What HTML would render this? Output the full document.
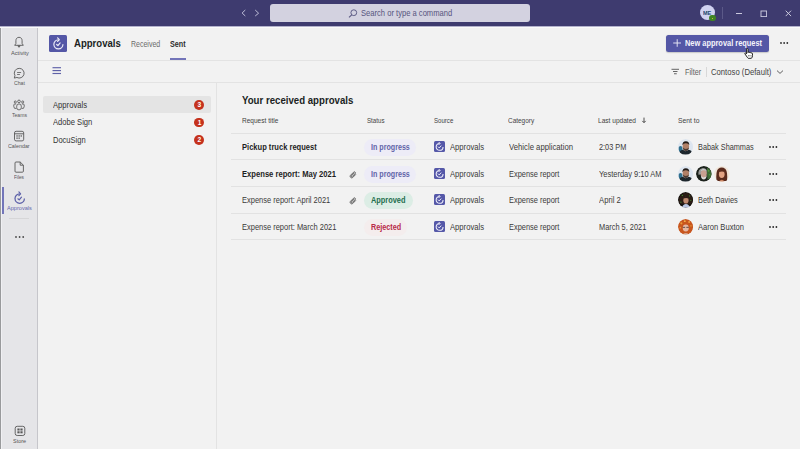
<!DOCTYPE html>
<html><head><meta charset="utf-8">
<style>
*{margin:0;padding:0;box-sizing:border-box}
html,body{width:800px;height:449px;overflow:hidden;background:#f2f2f2;font-family:"Liberation Sans",sans-serif;color:#252423}
.a{position:absolute}
.t{position:absolute;white-space:nowrap;line-height:1}
.hl{position:absolute;height:1px;background:#e1e1e1}
.badge{position:absolute;width:9.8px;height:9.8px;border-radius:50%;background:#c5321d}
.pill{position:absolute;height:17px;border-radius:8.5px}
.src{position:absolute;width:11.2px;height:11px;background:#5558a8;border-radius:1.5px}
</style></head><body>
<div class="a" style="left:0;top:0;width:800px;height:26px;background:#3e3b6f"></div>
<svg class="a" style="left:240px;top:8px" width="22" height="10" viewBox="0 0 22 10">
<polyline points="5.3,2 2.1,5 5.3,8" fill="none" stroke="#bdbcd6" stroke-width="1"/>
<polyline points="15.2,2 18.6,5.2 15.2,8" fill="none" stroke="#bdbcd6" stroke-width="1"/>
</svg>
<div class="a" style="left:270px;top:4.2px;width:260px;height:17.5px;background:#d3d2e0;border-radius:3px"></div>
<svg class="a" style="left:347.5px;top:9px" width="10" height="9" viewBox="0 0 10 9">
<circle cx="5.8" cy="3.7" r="2.9" fill="none" stroke="#5a5882" stroke-width="0.95"/>
<line x1="3.7" y1="5.8" x2="1" y2="8.4" stroke="#5a5882" stroke-width="1.05"/>
</svg>
<div class="t" style="left:361px;top:9px;font-size:8.4px;font-weight:400;color:#56547e;transform:scaleX(0.9069);transform-origin:0 0;">Search or type a command</div>
<div class="a" style="left:699.7px;top:4.9px;width:15.5px;height:15.6px;border-radius:50%;background:#d0d2f0"></div>
<div class="t" style="left:703.4px;top:11px;font-size:5.8px;font-weight:700;color:#23466c;transform:scaleX(0.9401);transform-origin:0 0;">ME</div>
<div class="a" style="left:709.4px;top:14.9px;width:6.6px;height:6.6px;border-radius:50%;background:#3f8424"></div>
<div class="a" style="left:712.2px;top:17.7px;width:1.2px;height:1.2px;border-radius:50%;background:#e8d040"></div>
<div class="a" style="left:722.3px;top:7px;width:1px;height:12px;background:#5b5988"></div>
<div class="a" style="left:736px;top:12.6px;width:6.4px;height:1px;background:#cac9de"></div>
<svg class="a" style="left:759.5px;top:9.5px" width="7.5" height="7.5" viewBox="0 0 7.5 7.5"><rect x="1" y="1" width="5.6" height="5.6" fill="none" stroke="#cac9de" stroke-width="0.95"/></svg>
<svg class="a" style="left:785px;top:9.7px" width="7" height="7" viewBox="0 0 7 7">
<line x1="0.7" y1="0.7" x2="6.1" y2="6.1" stroke="#d0cfe2" stroke-width="0.95"/>
<line x1="6.1" y1="0.7" x2="0.7" y2="6.1" stroke="#d0cfe2" stroke-width="0.95"/>
</svg>
<div class="a" style="left:0;top:26px;width:37px;height:423px;background:#e5e5e8"></div>
<div class="a" style="left:37px;top:26px;width:1px;height:423px;background:#c6c6cb"></div>
<div class="a" style="left:0;top:26px;width:1px;height:423px;background:#999a9c"></div>
<div class="a" style="left:1px;top:26px;width:1px;height:423px;background:#f0f0f3"></div>
<svg class="a" style="left:13px;top:36px" width="12" height="12" viewBox="0 0 12 12">
<path d="M6 1.3 C3.9 1.3 2.9 2.9 2.9 4.7 V7.5 L1.7 9.3 H10.3 L9.1 7.5 V4.7 C9.1 2.9 8.1 1.3 6 1.3 Z" fill="none" stroke="#585858" stroke-width="0.9" stroke-linejoin="round"/>
<path d="M4.7 9.7 L6 11.4 L7.3 9.7 Z" fill="#585858" stroke="#585858" stroke-width="0.5" stroke-linejoin="round"/>
</svg>
<div class="t" style="left:10.5px;top:51px;font-size:5.8px;font-weight:400;color:#555555;transform:scaleX(0.9751);transform-origin:0 0;">Activity</div>
<svg class="a" style="left:13px;top:67px" width="12" height="12" viewBox="0 0 12 12">
<path d="M6.2 1.35 A4.85 4.85 0 1 1 3.9 10.45 L1.3 11.1 L1.95 8.6 A4.85 4.85 0 0 1 6.2 1.35 Z" fill="none" stroke="#585858" stroke-width="0.9" stroke-linejoin="round"/>
<line x1="4.1" y1="5.5" x2="8.1" y2="5.5" stroke="#585858" stroke-width="0.8"/>
<line x1="4.1" y1="7.5" x2="6.9" y2="7.5" stroke="#585858" stroke-width="0.8"/>
</svg>
<div class="t" style="left:13.8px;top:81px;font-size:5.8px;font-weight:400;color:#555555;transform:scaleX(0.8865);transform-origin:0 0;">Chat</div>
<svg class="a" style="left:13px;top:98.6px" width="12" height="12" viewBox="0 0 12 12">
<circle cx="6" cy="2.4" r="1.35" fill="none" stroke="#585858" stroke-width="0.85"/>
<circle cx="2.3" cy="3.0" r="1.05" fill="none" stroke="#585858" stroke-width="0.85"/>
<circle cx="9.7" cy="3.0" r="1.05" fill="none" stroke="#585858" stroke-width="0.85"/>
<rect x="3.7" y="4.9" width="4.6" height="6" rx="2.3" fill="none" stroke="#585858" stroke-width="0.85"/>
<path d="M3.2 5.0 H1.8 A1 1 0 0 0 0.8 6 V7.6 A2 2 0 0 0 3.4 9.4" fill="none" stroke="#585858" stroke-width="0.85"/>
<path d="M8.8 5.0 H10.2 A1 1 0 0 1 11.2 6 V7.6 A2 2 0 0 1 8.6 9.4" fill="none" stroke="#585858" stroke-width="0.85"/>
</svg>
<div class="t" style="left:11.8px;top:113px;font-size:5.8px;font-weight:400;color:#555555;transform:scaleX(0.8734);transform-origin:0 0;">Teams</div>
<svg class="a" style="left:13px;top:129.6px" width="12" height="12" viewBox="0 0 12 12">
<rect x="1.5" y="1.3" width="9.2" height="9.6" rx="1.6" fill="none" stroke="#585858" stroke-width="0.9"/>
<line x1="1.5" y1="3.8" x2="10.7" y2="3.8" stroke="#585858" stroke-width="0.9"/>
<rect x="3.4" y="5.3" width="1.3" height="1.3" fill="#585858"/><rect x="5.5" y="5.3" width="1.3" height="1.3" fill="#585858"/><rect x="7.6" y="5.3" width="1.3" height="1.3" fill="#585858"/>
<rect x="3.4" y="7.5" width="1.3" height="1.3" fill="#585858"/><rect x="5.5" y="7.5" width="1.3" height="1.3" fill="#585858"/>
</svg>
<div class="t" style="left:8px;top:144px;font-size:5.8px;font-weight:400;color:#555555;transform:scaleX(0.9197);transform-origin:0 0;">Calendar</div>
<svg class="a" style="left:13px;top:161px" width="12" height="12" viewBox="0 0 12 12">
<path d="M3 1 H7.2 L10.4 4.2 V10.2 A1 1 0 0 1 9.4 11.2 H3 A1 1 0 0 1 2 10.2 V2 A1 1 0 0 1 3 1 Z" fill="none" stroke="#585858" stroke-width="0.9" stroke-linejoin="round"/>
<path d="M7.2 1 V4.2 H10.4" fill="none" stroke="#585858" stroke-width="0.9"/>
</svg>
<div class="t" style="left:14.2px;top:175px;font-size:5.8px;font-weight:400;color:#555555;transform:scaleX(0.8103);transform-origin:0 0;">Files</div>
<div class="a" style="left:2px;top:187px;width:2px;height:27px;background:#7275b9"></div>
<svg class="a" style="left:10.5px;top:188.5px" width="18" height="18" viewBox="0 0 18 18">
<path d="M8.7 4.9 A4.7 4.7 0 1 0 13.4 9.6" fill="none" stroke="#5b5fa8" stroke-width="1.25"/>
<path d="M7.9 2.9 L9.6 4.9 L7.9 6.7" fill="none" stroke="#5b5fa8" stroke-width="1.19" stroke-linecap="round" stroke-linejoin="round"/>
<path d="M6.9 9.8 L8.2 10.9 L10.5 8.2" fill="none" stroke="#5b5fa8" stroke-width="1.19" stroke-linecap="round" stroke-linejoin="round"/>
</svg>
<div class="t" style="left:7px;top:206px;font-size:5.8px;font-weight:400;color:#6466ad;transform:scaleX(0.9622);transform-origin:0 0;">Approvals</div>
<div class="a" style="left:9px;top:217.6px;width:20px;height:1px;background:#d6d6d8"></div>
<svg class="a" style="left:14.5px;top:234.8px" width="12" height="4" viewBox="0 0 12 4"><circle cx="1.00" cy="2" r="0.9" fill="#4a4a4a"/><circle cx="4.60" cy="2" r="0.9" fill="#4a4a4a"/><circle cx="8.20" cy="2" r="0.9" fill="#4a4a4a"/></svg>
<svg class="a" style="left:13.5px;top:425.2px" width="12" height="12" viewBox="0 0 12 12">
<rect x="1.2" y="1.3" width="9.6" height="9.2" rx="2" fill="none" stroke="#585858" stroke-width="0.9"/>
<rect x="3.4" y="3.5" width="2.2" height="2" fill="#585858"/><rect x="6.4" y="3.5" width="2.2" height="2" fill="#585858"/>
<rect x="3.4" y="6.3" width="2.2" height="2" fill="#585858"/><rect x="6.4" y="6.3" width="2.2" height="2" fill="#585858"/>
</svg>
<div class="t" style="left:12.9px;top:439px;font-size:5.8px;font-weight:400;color:#555555;transform:scaleX(0.9463);transform-origin:0 0;">Store</div>
<div class="a" style="left:0;top:26px;width:800px;height:1px;background:#b3b2cc"></div>
<div class="a" style="left:0;top:27px;width:800px;height:1px;background:#fafafa"></div>
<div class="a" style="left:49.3px;top:34.9px;width:17.3px;height:17.4px;background:#5457a6;border-radius:1.5px"></div>
<svg class="a" style="left:50.0px;top:34.6px" width="17.4" height="17.4" viewBox="0 0 18 18">
<path d="M8.7 4.9 A4.7 4.7 0 1 0 13.4 9.6" fill="none" stroke="#eeeef8" stroke-width="1.24"/>
<path d="M7.9 2.9 L9.6 4.9 L7.9 6.7" fill="none" stroke="#eeeef8" stroke-width="1.18" stroke-linecap="round" stroke-linejoin="round"/>
<path d="M6.9 9.8 L8.2 10.9 L10.5 8.2" fill="none" stroke="#eeeef8" stroke-width="1.18" stroke-linecap="round" stroke-linejoin="round"/>
</svg>
<div class="t" style="left:74px;top:38px;font-size:10.8px;font-weight:700;color:#201f1e;transform:scaleX(0.8865);transform-origin:0 0;">Approvals</div>
<div class="t" style="left:131px;top:41px;font-size:8.2px;font-weight:400;color:#6b6b6b;transform:scaleX(0.8560);transform-origin:0 0;">Received</div>
<div class="t" style="left:169.8px;top:41px;font-size:8.2px;font-weight:700;color:#2e2e2e;transform:scaleX(0.8770);transform-origin:0 0;">Sent</div>
<div class="a" style="left:170.2px;top:58px;width:15.6px;height:2px;background:#7375b9"></div>
<div class="a" style="left:666px;top:35px;width:103px;height:17px;background:#5457a6;border-radius:2.5px;box-shadow:0 0.6px 1.2px rgba(0,0,0,0.18)"></div>
<svg class="a" style="left:673px;top:39px" width="8.4" height="8" viewBox="0 0 8.4 8">
<line x1="4.2" y1="0.2" x2="4.2" y2="7.8" stroke="#eeeef8" stroke-width="0.9"/>
<line x1="0.2" y1="4" x2="8.2" y2="4" stroke="#eeeef8" stroke-width="0.9"/>
</svg>
<div class="t" style="left:685px;top:39px;font-size:8.4px;font-weight:700;color:#f4f4fb;transform:scaleX(0.8849);transform-origin:0 0;">New approval request</div>
<svg class="a" style="left:780.4px;top:41.3px" width="12" height="4" viewBox="0 0 12 4"><circle cx="1.00" cy="2" r="0.9" fill="#2e2e2e"/><circle cx="4.15" cy="2" r="0.9" fill="#2e2e2e"/><circle cx="7.30" cy="2" r="0.9" fill="#2e2e2e"/></svg>
<div class="hl" style="left:38px;top:60px;width:762px;background:#e3e3e3"></div>
<svg class="a" style="left:743.5px;top:48px" width="11" height="11" viewBox="0 0 11 11">
<path d="M2.6 1.2 Q2.6 0.4 3.3 0.4 Q4 0.4 4 1.2 V4.6 Q4.2 3.8 4.9 3.9 Q5.5 4 5.5 4.8 Q5.8 4.2 6.4 4.4 Q7 4.6 7 5.3 Q7.3 4.8 7.9 5 Q8.5 5.2 8.5 6 V7.6 Q8.5 9.2 7.4 10.3 H4.2 Q3.2 9.4 2.4 8 L1 6 Q0.6 5.3 1.2 5 Q1.8 4.8 2.3 5.5 L2.6 6 Z" fill="#fff" stroke="#1a1a1a" stroke-width="0.95" stroke-linejoin="round"/>
<path d="M4.5 7 V8.4 M5.8 7 V8.4 M7.1 7 V8.4" stroke="#444" stroke-width="0.6"/>
</svg>
<svg class="a" style="left:52px;top:66px" width="10" height="10" viewBox="0 0 10 10">
<line x1="0.5" y1="1.7" x2="9" y2="1.7" stroke="#5f62a8" stroke-width="1.15"/>
<line x1="0.5" y1="4.6" x2="9" y2="4.6" stroke="#5f62a8" stroke-width="1.15"/>
<line x1="0.5" y1="7.5" x2="9" y2="7.5" stroke="#5f62a8" stroke-width="1.15"/>
</svg>
<svg class="a" style="left:671px;top:68px" width="9" height="7" viewBox="0 0 9 7">
<line x1="0.5" y1="1.3" x2="8" y2="1.3" stroke="#555555" stroke-width="0.9"/>
<line x1="2" y1="3.5" x2="6.5" y2="3.5" stroke="#555555" stroke-width="0.9"/>
<line x1="3" y1="5.75" x2="5.75" y2="5.75" stroke="#555555" stroke-width="0.9"/>
</svg>
<div class="t" style="left:684.5px;top:69px;font-size:8.2px;font-weight:400;color:#616161;transform:scaleX(0.8826);transform-origin:0 0;">Filter</div>
<div class="a" style="left:706px;top:66.5px;width:1px;height:10px;background:#d8d8d8"></div>
<div class="t" style="left:710.8px;top:69px;font-size:8.2px;font-weight:400;color:#424242;transform:scaleX(0.9404);transform-origin:0 0;">Contoso (Default)</div>
<svg class="a" style="left:776px;top:69px" width="8" height="6" viewBox="0 0 8 6">
<polyline points="1,1.6 4,4.4 7,1.6" fill="none" stroke="#505050" stroke-width="0.9"/>
</svg>
<div class="hl" style="left:38px;top:82px;width:762px;background:#e3e3e3"></div>
<div class="a" style="left:216px;top:83px;width:1px;height:366px;background:#e3e3e3"></div>
<div class="a" style="left:43px;top:96.2px;width:168px;height:16.8px;background:#e4e4e4;border-radius:2px"></div>
<div class="t" style="left:52.6px;top:102px;font-size:8.2px;font-weight:400;color:#333333;transform:scaleX(0.9335);transform-origin:0 0;">Approvals</div>
<div class="t" style="left:52.6px;top:119px;font-size:8.2px;font-weight:400;color:#333333;transform:scaleX(0.9279);transform-origin:0 0;">Adobe Sign</div>
<div class="t" style="left:52.6px;top:137px;font-size:8.2px;font-weight:400;color:#333333;transform:scaleX(0.9180);transform-origin:0 0;">DocuSign</div>
<div class="badge" style="left:194.4px;top:100.0px"></div>
<div class="t" style="left:197.5px;top:102px;font-size:6px;font-weight:700;color:#ffffff;letter-spacing:0.000px;font-size:6.6px">3</div>
<div class="badge" style="left:194.4px;top:117.7px"></div>
<div class="t" style="left:197.7px;top:120px;font-size:6px;font-weight:700;color:#ffffff;letter-spacing:0.000px;font-size:6.6px">1</div>
<div class="badge" style="left:194.4px;top:135.3px"></div>
<div class="t" style="left:197.5px;top:137px;font-size:6px;font-weight:700;color:#ffffff;letter-spacing:0.000px;font-size:6.6px">2</div>
<div class="t" style="left:242.1px;top:96px;font-size:10.4px;font-weight:700;color:#201f1e;transform:scaleX(0.9280);transform-origin:0 0;">Your received approvals</div>
<div class="t" style="left:242.1px;top:117px;font-size:7px;font-weight:400;color:#424242;transform:scaleX(0.9329);transform-origin:0 0;">Request title</div>
<div class="t" style="left:366.9px;top:117px;font-size:7px;font-weight:400;color:#424242;transform:scaleX(0.8798);transform-origin:0 0;">Status</div>
<div class="t" style="left:434.4px;top:117px;font-size:7px;font-weight:400;color:#424242;transform:scaleX(0.8705);transform-origin:0 0;">Source</div>
<div class="t" style="left:508.4px;top:117px;font-size:7px;font-weight:400;color:#424242;transform:scaleX(0.9203);transform-origin:0 0;">Category</div>
<div class="t" style="left:597.9px;top:117px;font-size:7px;font-weight:400;color:#424242;transform:scaleX(0.9387);transform-origin:0 0;">Last updated</div>
<svg class="a" style="left:641px;top:117px" width="6" height="7" viewBox="0 0 6 7">
<line x1="3" y1="0.6" x2="3" y2="5.4" stroke="#3c3c3c" stroke-width="0.9"/>
<polyline points="1.3,3.9 3,5.7 4.7,3.9" fill="none" stroke="#3c3c3c" stroke-width="0.9"/>
</svg>
<div class="t" style="left:678.4px;top:117px;font-size:7px;font-weight:400;color:#424242;transform:scaleX(0.9646);transform-origin:0 0;">Sent to</div>
<div class="hl" style="left:231px;top:133px;width:555px;background:#e2e2e2"></div>
<div class="hl" style="left:231px;top:159px;width:555px;background:#e2e2e2"></div>
<div class="hl" style="left:231px;top:186px;width:555px;background:#e2e2e2"></div>
<div class="hl" style="left:231px;top:212.6px;width:555px;background:#e2e2e2"></div>
<div class="hl" style="left:231px;top:238.6px;width:555px;background:#e2e2e2"></div>
<div class="t" style="left:242.2px;top:144px;font-size:8.2px;font-weight:700;color:#1f1f1f;transform:scaleX(0.9229);transform-origin:0 0;">Pickup truck request</div>
<div class="pill" style="left:364px;top:139.4px;width:51.5px;background:#edecf7"></div>
<div class="t" style="left:370.8px;top:144px;font-size:8.2px;font-weight:700;color:#6164a8;transform:scaleX(0.8705);transform-origin:0 0;">In progress</div>
<div class="src" style="left:434.2px;top:141.0px"></div>
<svg class="a" style="left:434.1px;top:140.7px" width="11.2" height="11.2" viewBox="0 0 11.2 11.2">
<path d="M5.6 2.45 A3.45 3.45 0 1 0 9.05 5.9" fill="none" stroke="#f0f0fa" stroke-width="1.05"/>
<path d="M5.0 1.3 L6.1 2.45 L5.0 3.6" fill="none" stroke="#f0f0fa" stroke-width="0.95" stroke-linecap="round" stroke-linejoin="round"/>
<path d="M4.2 5.9 L5.2 6.9 L7.0 4.9" fill="none" stroke="#f0f0fa" stroke-width="0.95" stroke-linecap="round" stroke-linejoin="round"/>
</svg>
<div class="t" style="left:450px;top:144px;font-size:8.2px;font-weight:400;color:#3b3a39;transform:scaleX(0.9335);transform-origin:0 0;">Approvals</div>
<div class="t" style="left:508.5px;top:144px;font-size:8.2px;font-weight:400;color:#3b3a39;transform:scaleX(0.9448);transform-origin:0 0;">Vehicle application</div>
<div class="t" style="left:598.8px;top:144px;font-size:8.2px;font-weight:400;color:#3b3a39;transform:scaleX(0.8934);transform-origin:0 0;">2:03 PM</div>
<div class="a" style="left:677.7px;top:139.2px;width:15.5px;height:15.5px;border-radius:50%;overflow:hidden"><svg style="display:block" width="15.5" height="15.5" viewBox="0 0 16 16"><circle cx="8" cy="8" r="8" fill="#dde5ef"/><ellipse cx="2.6" cy="10.5" rx="2" ry="3.2" fill="#2f6f8f"/><path d="M0.5 16 Q1.5 11.6 5 11.2 L8 12.6 L11 11.2 Q14.5 11.6 15.5 16 Z" fill="#1d262c"/><ellipse cx="8.1" cy="7.6" rx="3.3" ry="4.3" fill="#b08068"/><path d="M4.9 8.6 Q5.2 12.4 8.1 12.4 Q11 12.4 11.3 8.6 Q10.5 10.4 8.1 10.4 Q5.7 10.4 4.9 8.6Z" fill="#4a3a32"/><path d="M4.6 6.4 Q4.4 2.4 8.1 2.3 Q11.8 2.4 11.6 6.4 Q11 4.2 8.1 4.3 Q5.2 4.2 4.6 6.4Z" fill="#221b17"/></svg></div>
<div class="t" style="left:697.8px;top:144px;font-size:8.2px;font-weight:400;color:#3b3a39;transform:scaleX(0.8931);transform-origin:0 0;">Babak Shammas</div>
<svg class="a" style="left:768.9px;top:144.7px" width="12" height="4" viewBox="0 0 12 4"><circle cx="1.00" cy="2" r="0.9" fill="#2a2a2a"/><circle cx="4.20" cy="2" r="0.9" fill="#2a2a2a"/><circle cx="7.40" cy="2" r="0.9" fill="#2a2a2a"/></svg>
<div class="t" style="left:242.2px;top:171px;font-size:8.2px;font-weight:700;color:#1f1f1f;transform:scaleX(0.9313);transform-origin:0 0;">Expense report: May 2021</div>
<svg class="a" style="left:349px;top:171.0px" width="8" height="8" viewBox="0 0 8 8">
<path d="M6.6 3.6 L3.6 6.6 A1.6 1.6 0 0 1 1.4 4.4 L4.6 1.2 A1.05 1.05 0 0 1 6.1 2.7 L3.2 5.6 A0.5 0.5 0 0 1 2.4 4.8 L5 2.2" fill="none" stroke="#505050" stroke-width="0.9" stroke-linecap="round"/>
</svg>
<div class="pill" style="left:364px;top:166.4px;width:51.5px;background:#edecf7"></div>
<div class="t" style="left:370.8px;top:171px;font-size:8.2px;font-weight:700;color:#6164a8;transform:scaleX(0.8705);transform-origin:0 0;">In progress</div>
<div class="src" style="left:434.2px;top:168.0px"></div>
<svg class="a" style="left:434.1px;top:167.7px" width="11.2" height="11.2" viewBox="0 0 11.2 11.2">
<path d="M5.6 2.45 A3.45 3.45 0 1 0 9.05 5.9" fill="none" stroke="#f0f0fa" stroke-width="1.05"/>
<path d="M5.0 1.3 L6.1 2.45 L5.0 3.6" fill="none" stroke="#f0f0fa" stroke-width="0.95" stroke-linecap="round" stroke-linejoin="round"/>
<path d="M4.2 5.9 L5.2 6.9 L7.0 4.9" fill="none" stroke="#f0f0fa" stroke-width="0.95" stroke-linecap="round" stroke-linejoin="round"/>
</svg>
<div class="t" style="left:450px;top:171px;font-size:8.2px;font-weight:400;color:#3b3a39;transform:scaleX(0.9335);transform-origin:0 0;">Approvals</div>
<div class="t" style="left:508.5px;top:171px;font-size:8.2px;font-weight:400;color:#3b3a39;transform:scaleX(0.9067);transform-origin:0 0;">Expense report</div>
<div class="t" style="left:598.8px;top:171px;font-size:8.2px;font-weight:400;color:#3b3a39;transform:scaleX(0.9123);transform-origin:0 0;">Yesterday 9:10 AM</div>
<div class="a" style="left:677.7px;top:166.0px;width:15.5px;height:15.5px;border-radius:50%;overflow:hidden"><svg style="display:block" width="15.5" height="15.5" viewBox="0 0 16 16"><circle cx="8" cy="8" r="8" fill="#dde5ef"/><ellipse cx="2.6" cy="10.5" rx="2" ry="3.2" fill="#2f6f8f"/><path d="M0.5 16 Q1.5 11.6 5 11.2 L8 12.6 L11 11.2 Q14.5 11.6 15.5 16 Z" fill="#1d262c"/><ellipse cx="8.1" cy="7.6" rx="3.3" ry="4.3" fill="#b08068"/><path d="M4.9 8.6 Q5.2 12.4 8.1 12.4 Q11 12.4 11.3 8.6 Q10.5 10.4 8.1 10.4 Q5.7 10.4 4.9 8.6Z" fill="#4a3a32"/><path d="M4.6 6.4 Q4.4 2.4 8.1 2.3 Q11.8 2.4 11.6 6.4 Q11 4.2 8.1 4.3 Q5.2 4.2 4.6 6.4Z" fill="#221b17"/></svg></div>
<div class="a" style="left:696.0px;top:166.0px;width:15.5px;height:15.5px;border-radius:50%;overflow:hidden"><svg style="display:block" width="15.5" height="15.5" viewBox="0 0 16 16"><circle cx="8" cy="8" r="8" fill="#1c221c"/><path d="M11.5 1.5 Q16 4 16 9 Q15 13 12 14 L11 6Z" fill="#3f6a36"/><circle cx="13" cy="5" r="0.9" fill="#5aa040"/><circle cx="14" cy="9" r="0.8" fill="#4a9a3a"/><path d="M2.5 9 Q1.8 3 6.5 2.2 Q10.5 2 11 5 L11 8 Z" fill="#9a9a98"/><ellipse cx="8" cy="8" rx="3.1" ry="3.9" fill="#c9a090"/><path d="M4.9 9.5 Q5.5 14 8 14 Q10.5 14 11.1 9.5 Q10 11.5 8 11.5 Q6 11.5 4.9 9.5Z" fill="#e0dcd8"/><path d="M4.8 5.8 Q5 3 8 3 Q10.8 3 11.1 5.6 Q9.8 4.4 8 4.5 Q6 4.4 4.8 5.8Z" fill="#cfcfcf"/></svg></div>
<div class="a" style="left:714.3000000000001px;top:166.0px;width:15.5px;height:15.5px;border-radius:50%;overflow:hidden"><svg style="display:block" width="15.5" height="15.5" viewBox="0 0 16 16"><circle cx="8" cy="8" r="8" fill="#f1e6da"/><path d="M2.6 15.5 Q1.6 6 4.2 3 Q8 0 11.8 3 Q14.4 6 13.4 15.5Z" fill="#5a2a1c"/><ellipse cx="8" cy="8.4" rx="2.9" ry="3.9" fill="#e2a282"/><path d="M4.8 6.4 Q6 3 9.5 3.6 Q11.4 4.4 11.2 7 Q9.5 4.8 4.8 6.4Z" fill="#5a2a1c"/><path d="M5 16 Q8 12.5 11 16Z" fill="#d08a66"/></svg></div>
<svg class="a" style="left:768.9px;top:171.7px" width="12" height="4" viewBox="0 0 12 4"><circle cx="1.00" cy="2" r="0.9" fill="#2a2a2a"/><circle cx="4.20" cy="2" r="0.9" fill="#2a2a2a"/><circle cx="7.40" cy="2" r="0.9" fill="#2a2a2a"/></svg>
<div class="t" style="left:242.2px;top:197px;font-size:8.2px;font-weight:400;color:#3b3a39;transform:scaleX(0.9149);transform-origin:0 0;">Expense report: April 2021</div>
<svg class="a" style="left:349px;top:197.0px" width="8" height="8" viewBox="0 0 8 8">
<path d="M6.6 3.6 L3.6 6.6 A1.6 1.6 0 0 1 1.4 4.4 L4.6 1.2 A1.05 1.05 0 0 1 6.1 2.7 L3.2 5.6 A0.5 0.5 0 0 1 2.4 4.8 L5 2.2" fill="none" stroke="#505050" stroke-width="0.9" stroke-linecap="round"/>
</svg>
<div class="pill" style="left:364px;top:192.4px;width:49px;background:#dcede5"></div>
<div class="t" style="left:370.8px;top:197px;font-size:8.2px;font-weight:700;color:#1f6e4e;transform:scaleX(0.9029);transform-origin:0 0;">Approved</div>
<div class="src" style="left:434.2px;top:194.0px"></div>
<svg class="a" style="left:434.1px;top:193.7px" width="11.2" height="11.2" viewBox="0 0 11.2 11.2">
<path d="M5.6 2.45 A3.45 3.45 0 1 0 9.05 5.9" fill="none" stroke="#f0f0fa" stroke-width="1.05"/>
<path d="M5.0 1.3 L6.1 2.45 L5.0 3.6" fill="none" stroke="#f0f0fa" stroke-width="0.95" stroke-linecap="round" stroke-linejoin="round"/>
<path d="M4.2 5.9 L5.2 6.9 L7.0 4.9" fill="none" stroke="#f0f0fa" stroke-width="0.95" stroke-linecap="round" stroke-linejoin="round"/>
</svg>
<div class="t" style="left:450px;top:197px;font-size:8.2px;font-weight:400;color:#3b3a39;transform:scaleX(0.9335);transform-origin:0 0;">Approvals</div>
<div class="t" style="left:508.5px;top:197px;font-size:8.2px;font-weight:400;color:#3b3a39;transform:scaleX(0.9067);transform-origin:0 0;">Expense report</div>
<div class="t" style="left:598.8px;top:197px;font-size:8.2px;font-weight:400;color:#3b3a39;transform:scaleX(0.9385);transform-origin:0 0;">April 2</div>
<div class="a" style="left:677.7px;top:192.3px;width:15.5px;height:15.5px;border-radius:50%;overflow:hidden"><svg style="display:block" width="15.5" height="15.5" viewBox="0 0 16 16"><circle cx="8" cy="8" r="8" fill="#15120f"/><path d="M1.5 6 Q4 0.5 8 1.2 Q12.5 0.5 14.5 6 Q16 10 13.5 12.5 L2.5 12.5 Q0 10 1.5 6Z" fill="#2b1d15"/><circle cx="4.5" cy="3.5" r="0.7" fill="#3c8a2a"/><circle cx="12" cy="4" r="0.6" fill="#3c8a2a"/><circle cx="13.2" cy="8.5" r="0.6" fill="#4a9a3a"/><circle cx="3" cy="10.5" r="0.6" fill="#4a9a3a"/><ellipse cx="8.2" cy="8.4" rx="2.7" ry="3.5" fill="#c08a70"/><path d="M5.2 6.8 Q6.5 3.6 9.8 4.2 Q11 5 11 7 Q9 5.4 5.2 6.8Z" fill="#2b1d15"/><path d="M4.2 16 Q5 12.6 8.2 12.4 Q11.4 12.6 12.2 16Z" fill="#b9c6e2"/></svg></div>
<div class="t" style="left:697.8px;top:197px;font-size:8.2px;font-weight:400;color:#3b3a39;transform:scaleX(0.8990);transform-origin:0 0;">Beth Davies</div>
<svg class="a" style="left:768.9px;top:197.7px" width="12" height="4" viewBox="0 0 12 4"><circle cx="1.00" cy="2" r="0.9" fill="#2a2a2a"/><circle cx="4.20" cy="2" r="0.9" fill="#2a2a2a"/><circle cx="7.40" cy="2" r="0.9" fill="#2a2a2a"/></svg>
<div class="t" style="left:242.2px;top:224px;font-size:8.2px;font-weight:400;color:#3b3a39;transform:scaleX(0.9137);transform-origin:0 0;">Expense report: March 2021</div>
<div class="pill" style="left:364px;top:219.4px;width:43px;background:#f4eded"></div>
<div class="t" style="left:370.8px;top:224px;font-size:8.2px;font-weight:700;color:#b82a48;transform:scaleX(0.8820);transform-origin:0 0;">Rejected</div>
<div class="src" style="left:434.2px;top:221.0px"></div>
<svg class="a" style="left:434.1px;top:220.7px" width="11.2" height="11.2" viewBox="0 0 11.2 11.2">
<path d="M5.6 2.45 A3.45 3.45 0 1 0 9.05 5.9" fill="none" stroke="#f0f0fa" stroke-width="1.05"/>
<path d="M5.0 1.3 L6.1 2.45 L5.0 3.6" fill="none" stroke="#f0f0fa" stroke-width="0.95" stroke-linecap="round" stroke-linejoin="round"/>
<path d="M4.2 5.9 L5.2 6.9 L7.0 4.9" fill="none" stroke="#f0f0fa" stroke-width="0.95" stroke-linecap="round" stroke-linejoin="round"/>
</svg>
<div class="t" style="left:450px;top:224px;font-size:8.2px;font-weight:400;color:#3b3a39;transform:scaleX(0.9335);transform-origin:0 0;">Approvals</div>
<div class="t" style="left:508.5px;top:224px;font-size:8.2px;font-weight:400;color:#3b3a39;transform:scaleX(0.9067);transform-origin:0 0;">Expense report</div>
<div class="t" style="left:598.8px;top:224px;font-size:8.2px;font-weight:400;color:#3b3a39;transform:scaleX(0.9037);transform-origin:0 0;">March 5, 2021</div>
<div class="a" style="left:677.7px;top:219.0px;width:15.5px;height:15.5px;border-radius:50%;overflow:hidden"><svg style="display:block" width="15.5" height="15.5" viewBox="0 0 16 16"><circle cx="8" cy="8" r="8" fill="#c8561e"/><circle cx="3.5" cy="4.5" r="1.1" fill="#ea9a3a"/><circle cx="7" cy="2.2" r="1" fill="#f0b04a"/><circle cx="11.5" cy="3" r="1" fill="#f0a040"/><circle cx="13.4" cy="7" r="0.9" fill="#e08a30"/><circle cx="2.4" cy="9" r="0.9" fill="#e8903a"/><ellipse cx="8" cy="9.4" rx="3.1" ry="3.6" fill="#e6b8a2"/><path d="M4.9 8.6 H7.4 M8.6 8.6 H11.1" stroke="#3a2c2c" stroke-width="0.8"/><path d="M4.5 16 Q8 13.2 11.5 16Z" fill="#d8c8bc"/></svg></div>
<div class="t" style="left:697.8px;top:224px;font-size:8.2px;font-weight:400;color:#3b3a39;transform:scaleX(0.9269);transform-origin:0 0;">Aaron Buxton</div>
<svg class="a" style="left:768.9px;top:224.7px" width="12" height="4" viewBox="0 0 12 4"><circle cx="1.00" cy="2" r="0.9" fill="#2a2a2a"/><circle cx="4.20" cy="2" r="0.9" fill="#2a2a2a"/><circle cx="7.40" cy="2" r="0.9" fill="#2a2a2a"/></svg>
</body></html>
